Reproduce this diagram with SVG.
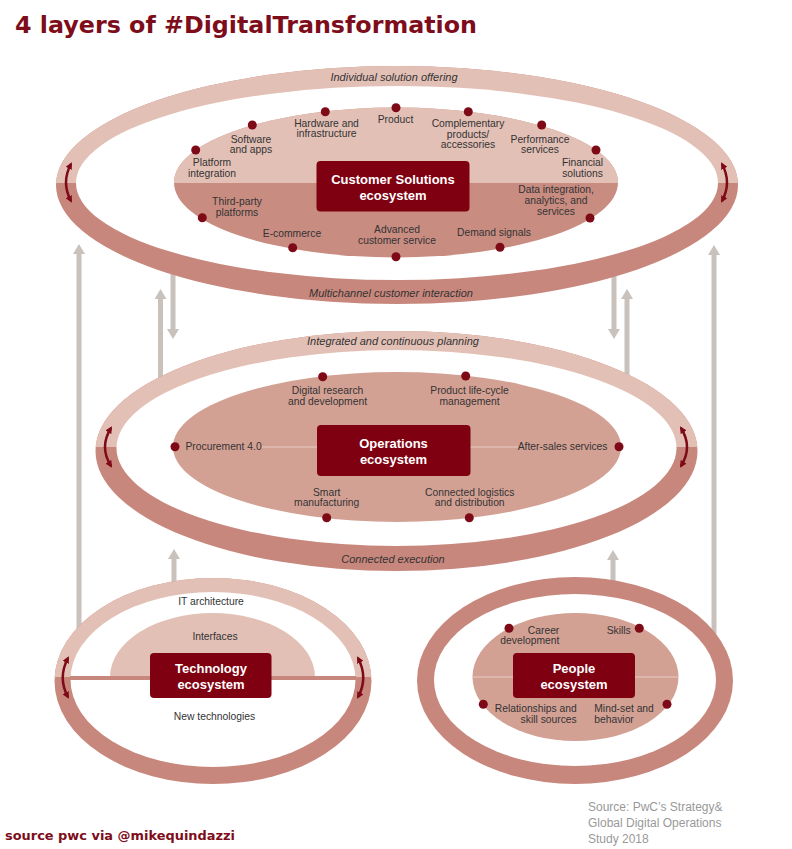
<svg xmlns="http://www.w3.org/2000/svg" width="792" height="849" viewBox="0 0 792 849">
<style>
.light{fill:#e3c0b6}
.dark{fill:#c8877c}
.inner-dark{fill:#c98c81}
.mid-fill{fill:#d3a194}
.hole{fill:#ffffff}
.box{fill:#7f0011}
.dot{fill:#7d0a16}
.conn{stroke:#c9c1bc;stroke-width:5;fill:none;marker-end:url(#gh)}
.cyc{stroke:#7d0a16;stroke-width:2.5;fill:none;marker-start:url(#rh);marker-end:url(#rh)}
.faint{stroke:#e6cbc2;stroke-width:1;fill:none}
text{font-family:"Liberation Sans",Arial,sans-serif}
.lbl{font-size:10.3px;fill:#333333}
.ring{font-size:11px;font-style:italic;fill:#333333;text-anchor:middle}
.bt{font-size:13px;font-weight:bold;fill:#ffffff;text-anchor:middle}
.m{text-anchor:middle}
.e{text-anchor:end}
</style>
<defs>
<marker id="gh" viewBox="0 0 10 12" refX="0" refY="6" markerWidth="10" markerHeight="12" markerUnits="userSpaceOnUse" orient="auto"><path d="M0,0 L10,6 L0,12 Z" fill="#c9c1bc"/></marker>
<marker id="rh" viewBox="0 0 7 7" refX="5" refY="3.5" markerWidth="7" markerHeight="7" markerUnits="userSpaceOnUse" orient="auto-start-reverse"><path d="M0,0 L7,3.5 L0,7 Z" fill="#7d0a16"/></marker>
<clipPath id="cTop"><rect x="0" y="0" width="792" height="183"/></clipPath>
<clipPath id="cMid"><rect x="0" y="0" width="792" height="447"/></clipPath>
<clipPath id="cTech"><rect x="0" y="0" width="792" height="677"/></clipPath>
</defs>
<rect x="0" y="0" width="792" height="849" fill="#ffffff"/>

<text x="15" y="33" font-family="'DejaVu Sans',Verdana,sans-serif" font-weight="bold" font-size="23.6" fill="#7d0d1a" textLength="462" lengthAdjust="spacingAndGlyphs" style="font-family:'DejaVu Sans',Verdana,sans-serif">4 layers of #DigitalTransformation</text>

<g id="connectors">
<line class="conn" x1="79" y1="630" x2="79" y2="254"/>
<line class="conn" x1="714" y1="635" x2="714" y2="255"/>
<line class="conn" x1="160.5" y1="382" x2="160.5" y2="299"/>
<line class="conn" x1="173" y1="268" x2="173" y2="329"/>
<line class="conn" x1="614" y1="270" x2="614" y2="329"/>
<line class="conn" x1="627" y1="380" x2="627" y2="299"/>
<line class="conn" x1="174" y1="588" x2="174" y2="559"/>
<line class="conn" x1="613" y1="588" x2="613" y2="560"/>
</g>

<g id="customer-solutions-layer">
<ellipse class="dark" cx="397" cy="185" rx="341" ry="119"/>
<ellipse class="light" cx="397" cy="185" rx="341" ry="119" clip-path="url(#cTop)"/>
<ellipse class="hole" cx="397" cy="183" rx="321" ry="97"/>
<ellipse class="inner-dark" cx="396" cy="182.5" rx="222" ry="75"/>
<ellipse class="light" cx="396" cy="182.5" rx="222" ry="75" clip-path="url(#cTop)"/>
<text class="ring" x="394" y="81">Individual solution offering</text>
<text class="ring" x="391" y="297">Multichannel customer interaction</text>
<path class="cyc" d="M71,164 Q61,182.5 71,201"/>
<path class="cyc" d="M722,164 Q732,182.5 722,201"/>
<g id="customer-solutions-ecosystem">
<rect class="box" x="316.5" y="161" width="153" height="50.5" rx="4"/>
<text class="bt" x="393" y="184">Customer Solutions</text>
<text class="bt" x="393" y="200">ecosystem</text>
</g>
<g id="cs-items">
<circle class="dot" cx="195.7" cy="150" r="4.5"/>
<text class="lbl m" x="212" y="166">Platform</text><text class="lbl m" x="212" y="177">integration</text>
<circle class="dot" cx="252.3" cy="125" r="4.5"/>
<text class="lbl m" x="251" y="143">Software</text><text class="lbl m" x="251" y="153">and apps</text>
<circle class="dot" cx="325.3" cy="111.7" r="4.5"/>
<text class="lbl m" x="326.5" y="127">Hardware and</text><text class="lbl m" x="326.5" y="137">infrastructure</text>
<circle class="dot" cx="396" cy="107.7" r="4.5"/>
<text class="lbl m" x="395.5" y="123">Product</text>
<circle class="dot" cx="468.3" cy="111.7" r="4.5"/>
<text class="lbl m" x="468" y="127">Complementary</text><text class="lbl m" x="468" y="137.5">products/</text><text class="lbl m" x="468" y="148">accessories</text>
<circle class="dot" cx="541.7" cy="125" r="4.5"/>
<text class="lbl m" x="540" y="143">Performance</text><text class="lbl m" x="540" y="153">services</text>
<circle class="dot" cx="596" cy="150" r="4.5"/>
<text class="lbl m" x="582.5" y="166">Financial</text><text class="lbl m" x="582.5" y="177">solutions</text>
<circle class="dot" cx="202.3" cy="217.7" r="4.5"/>
<text class="lbl m" x="237" y="205">Third-party</text><text class="lbl m" x="237" y="216">platforms</text>
<circle class="dot" cx="292.7" cy="247.7" r="4.5"/>
<text class="lbl m" x="292" y="237">E-commerce</text>
<circle class="dot" cx="396" cy="256.7" r="4.5"/>
<text class="lbl m" x="397" y="233">Advanced</text><text class="lbl m" x="397" y="244">customer service</text>
<circle class="dot" cx="500" cy="247.3" r="4.5"/>
<text class="lbl m" x="494" y="236">Demand signals</text>
<circle class="dot" cx="590" cy="218" r="4.5"/>
<text class="lbl m" x="556" y="193">Data integration,</text><text class="lbl m" x="556" y="204">analytics, and</text><text class="lbl m" x="556" y="215">services</text>
</g>
</g>

<g id="operations-layer">
<ellipse class="dark" cx="396.5" cy="451" rx="301" ry="120"/>
<ellipse class="light" cx="396.5" cy="451" rx="301" ry="120" clip-path="url(#cMid)"/>
<ellipse class="hole" cx="396.5" cy="448" rx="280" ry="98"/>
<ellipse class="mid-fill" cx="397" cy="447" rx="224" ry="75"/>
<line class="faint" x1="262" y1="447" x2="518" y2="447"/>
<text class="ring" x="393" y="345">Integrated and continuous planning</text>
<text class="ring" x="393" y="563">Connected execution</text>
<path class="cyc" d="M111,428 Q99,447 111,466"/>
<path class="cyc" d="M681,428 Q693,447 681,466"/>
<g id="operations-ecosystem">
<rect class="box" x="317" y="425" width="153.5" height="51" rx="4"/>
<text class="bt" x="393.5" y="448">Operations</text>
<text class="bt" x="393.5" y="464">ecosystem</text>
</g>
<g id="ops-items">
<circle class="dot" cx="322.7" cy="376.7" r="4.5"/>
<text class="lbl m" x="327.5" y="394">Digital research</text><text class="lbl m" x="327.5" y="405">and development</text>
<circle class="dot" cx="465.7" cy="376" r="4.5"/>
<text class="lbl m" x="469.5" y="394">Product life-cycle</text><text class="lbl m" x="469.5" y="405">management</text>
<circle class="dot" cx="175" cy="446.7" r="4.5"/>
<text class="lbl" x="185.5" y="450">Procurement 4.0</text>
<circle class="dot" cx="619" cy="446.7" r="4.5"/>
<text class="lbl e" x="607.5" y="450">After-sales services</text>
<circle class="dot" cx="326.7" cy="517.7" r="4.5"/>
<text class="lbl m" x="326.7" y="495.5">Smart</text><text class="lbl m" x="326.7" y="505.5">manufacturing</text>
<circle class="dot" cx="469.3" cy="517.7" r="4.5"/>
<text class="lbl m" x="469.7" y="495.5">Connected logistics</text><text class="lbl m" x="469.7" y="505.5">and distribution</text>
</g>
</g>

<g id="technology-layer">
<ellipse class="dark" cx="213" cy="681" rx="158.5" ry="103"/>
<ellipse class="light" cx="213" cy="681" rx="158.5" ry="103" clip-path="url(#cTech)"/>
<ellipse class="hole" cx="213" cy="679.5" rx="142.5" ry="87.5"/>
<path class="light" d="M110,677 A102.5,64 0 0 1 315,677 Z"/>
<rect class="dark" x="70" y="676" width="286" height="4"/>
<path class="cyc" d="M68,658 Q57.5,678 68,697"/>
<path class="cyc" d="M358,658 Q368.5,678 358,697"/>
<g id="technology-ecosystem">
<rect class="box" x="150" y="653" width="121.5" height="45" rx="4"/>
<text class="bt" x="211" y="673">Technology</text>
<text class="bt" x="211" y="689">ecosystem</text>
</g>
<text class="lbl m" x="211" y="605">IT architecture</text>
<text class="lbl m" x="215" y="639.5">Interfaces</text>
<text class="lbl m" x="214.5" y="719.5">New technologies</text>
</g>

<g id="people-layer">
<ellipse class="dark" cx="575" cy="680.5" rx="158" ry="103.5"/>
<ellipse class="hole" cx="575" cy="680" rx="141" ry="86"/>
<ellipse class="mid-fill" cx="575.5" cy="677" rx="103" ry="64"/>
<line class="faint" x1="473" y1="677" x2="678" y2="677"/>
<g id="people-ecosystem">
<rect class="box" x="513" y="653" width="122" height="45" rx="4"/>
<text class="bt" x="574" y="673">People</text>
<text class="bt" x="574" y="689">ecosystem</text>
</g>
<g id="people-items">
<circle class="dot" cx="509" cy="628.3" r="4.5"/>
<text class="lbl e" x="559.3" y="633.5">Career</text><text class="lbl e" x="559.3" y="644">development</text>
<circle class="dot" cx="639.3" cy="628.3" r="4.5"/>
<text class="lbl e" x="630.7" y="633.5">Skills</text>
<circle class="dot" cx="483.3" cy="704.3" r="4.5"/>
<text class="lbl e" x="576.7" y="712">Relationships and</text><text class="lbl e" x="576.7" y="722.5">skill sources</text>
<circle class="dot" cx="667" cy="704.3" r="4.5"/>
<text class="lbl" x="594.3" y="712">Mind-set and</text><text class="lbl" x="594.3" y="722.5">behavior</text>
</g>
</g>

<text x="588" y="811" font-size="12" fill="#999999">Source: PwC’s Strategy&amp;</text>
<text x="588" y="827" font-size="12" fill="#999999">Global Digital Operations</text>
<text x="588" y="843" font-size="12" fill="#999999">Study 2018</text>
<text x="5" y="840" font-size="13" font-weight="bold" fill="#7d0d1a" textLength="230" lengthAdjust="spacingAndGlyphs" style="font-family:'DejaVu Sans',Verdana,sans-serif">source pwc via @mikequindazzi</text>
</svg>
